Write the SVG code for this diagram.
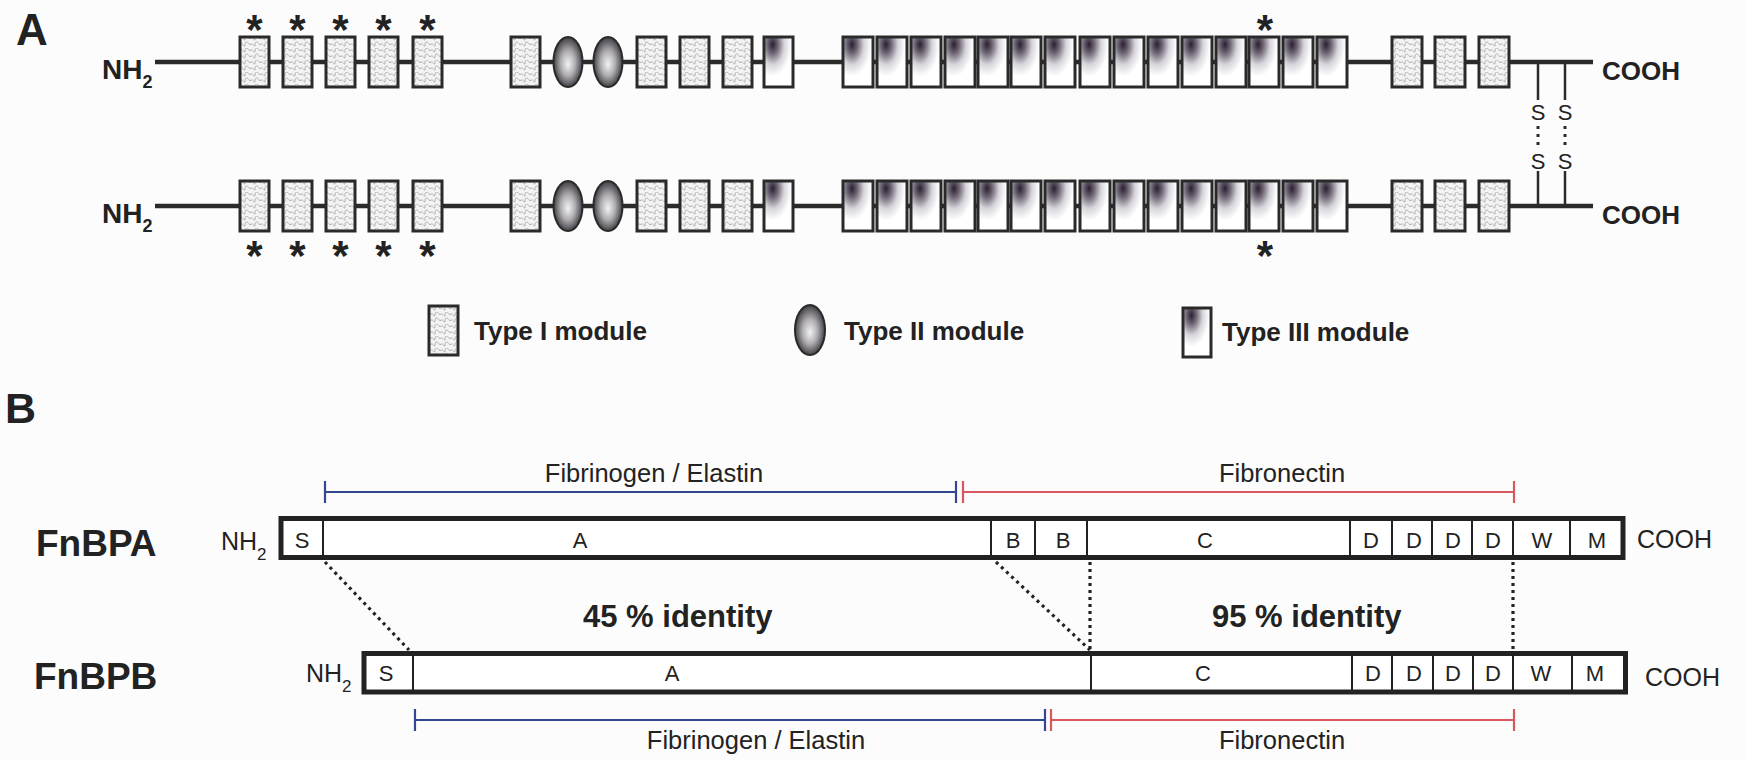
<svg xmlns="http://www.w3.org/2000/svg" width="1745" height="760" viewBox="0 0 1745 760">
<defs>
<pattern id="pI" width="10" height="12" patternUnits="userSpaceOnUse">
<rect width="10" height="12" fill="#f3f3f3"/>
<path d="M0 3 C2.5 -1 5 7 5 3 S7.5 -1 10 3 M0 9 C2.5 5 5 13 5 9 S7.5 5 10 9" fill="none" stroke="#a0a0a0" stroke-width="0.8"/>
</pattern>
<radialGradient id="gII" cx="0.5" cy="0.5" r="0.55" fx="0.5" fy="0.55">
<stop offset="0" stop-color="#f2f2f2"/>
<stop offset="0.45" stop-color="#b0aeb2"/>
<stop offset="0.85" stop-color="#504e52"/>
<stop offset="1" stop-color="#262428"/>
</radialGradient>
<radialGradient id="gIII" cx="0.3" cy="0.15" r="0.8">
<stop offset="0" stop-color="#2a2030"/>
<stop offset="0.22" stop-color="#6e6674"/>
<stop offset="0.5" stop-color="#d6d4da"/>
<stop offset="0.8" stop-color="#ffffff"/>
</radialGradient>
<style>
text{font-family:"Liberation Sans",Arial,sans-serif;fill:#222}
.b{font-weight:bold}
.m1{fill:url(#pI);stroke:#2a2a2a;stroke-width:3}
.m3{fill:url(#gIII);stroke:#2a2a2a;stroke-width:3}
.m2{fill:url(#gII);stroke:#2a2a2a;stroke-width:2}
.chain{stroke:#2a2a2a;stroke-width:4.5;fill:none}
.star{font-size:42px;font-weight:bold;text-anchor:middle}
.ss{stroke:#2a2a2a;stroke-width:2.5;fill:none}
.ssdot{stroke:#2a2a2a;stroke-width:3;stroke-dasharray:3 5;fill:none}
.bar{fill:#fff;stroke:#222;stroke-width:5}
.div{stroke:#222;stroke-width:2}
.lab{font-size:22px;text-anchor:middle}
.blue{stroke:#34468f;stroke-width:2.2;fill:none}
.red{stroke:#d8585e;stroke-width:2.2;fill:none}
.dot{stroke:#222;stroke-width:3.2;stroke-dasharray:3 4;fill:none}
.rng{font-size:25.5px;text-anchor:middle}
.ident{font-size:31px;font-weight:bold}
.leg{font-size:26px;font-weight:bold}
</style>
</defs>
<rect width="1745" height="760" fill="#fcfcfc"/>

<g id="panelA-label"><text x="16" y="45" class="b" font-size="44">A</text></g>
<g id="panelB-label"><text x="5" y="423" class="b" font-size="43">B</text></g>

<g id="connectors">
<line class="chain" x1="155" y1="62" x2="1593" y2="62"/>
<line class="chain" x1="155" y1="206" x2="1593" y2="206"/>
<line class="ss" x1="1538" y1="62" x2="1538" y2="100"/>
<line class="ss" x1="1565" y1="62" x2="1565" y2="100"/>
<line class="ssdot" x1="1538" y1="126" x2="1538" y2="146"/>
<line class="ssdot" x1="1565" y1="126" x2="1565" y2="146"/>
<line class="ss" x1="1538" y1="171" x2="1538" y2="206"/>
<line class="ss" x1="1565" y1="171" x2="1565" y2="206"/>
<path class="blue" d="M325 481V503M325 492H956M956 481V503"/>
<path class="red" d="M963 481V503M963 492H1514M1514 481V503"/>
<path class="blue" d="M415 709V731M415 720H1045M1045 709V731"/>
<path class="red" d="M1051 709V731M1051 720H1514M1514 709V731"/>
<line class="dot" x1="325" y1="562" x2="409" y2="650"/>
<line class="dot" x1="996" y1="562" x2="1090" y2="650"/>
<line class="dot" x1="1090" y1="562" x2="1090" y2="650"/>
<line class="dot" x1="1513" y1="562" x2="1513" y2="650"/>
</g>

<g id="chain-top">
<text x="102" y="79" class="b" font-size="28">NH<tspan font-size="18" dy="9">2</tspan></text>
<rect class="m1" x="240" y="37" width="29" height="50"/>
<rect class="m1" x="283" y="37" width="29" height="50"/>
<rect class="m1" x="326" y="37" width="29" height="50"/>
<rect class="m1" x="369" y="37" width="29" height="50"/>
<rect class="m1" x="413" y="37" width="29" height="50"/>
<rect class="m1" x="511" y="37" width="29" height="50"/>
<ellipse class="m2" cx="568" cy="62" rx="14.5" ry="25"/>
<ellipse class="m2" cx="608" cy="62" rx="14.5" ry="25"/>
<rect class="m1" x="637" y="37" width="29" height="50"/>
<rect class="m1" x="680" y="37" width="29" height="50"/>
<rect class="m1" x="723" y="37" width="29" height="50"/>
<rect class="m3" x="764" y="37" width="29" height="50"/>
<rect class="m3" x="843" y="37" width="30" height="50"/>
<rect class="m3" x="877" y="37" width="30" height="50"/>
<rect class="m3" x="911" y="37" width="30" height="50"/>
<rect class="m3" x="945" y="37" width="30" height="50"/>
<rect class="m3" x="978" y="37" width="30" height="50"/>
<rect class="m3" x="1011" y="37" width="30" height="50"/>
<rect class="m3" x="1045" y="37" width="30" height="50"/>
<rect class="m3" x="1080" y="37" width="30" height="50"/>
<rect class="m3" x="1114" y="37" width="30" height="50"/>
<rect class="m3" x="1148" y="37" width="30" height="50"/>
<rect class="m3" x="1182" y="37" width="30" height="50"/>
<rect class="m3" x="1216" y="37" width="30" height="50"/>
<rect class="m3" x="1249" y="37" width="30" height="50"/>
<rect class="m3" x="1283" y="37" width="30" height="50"/>
<rect class="m3" x="1317" y="37" width="30" height="50"/>
<rect class="m1" x="1392" y="37" width="30" height="50"/>
<rect class="m1" x="1435" y="37" width="30" height="50"/>
<rect class="m1" x="1479" y="37" width="30" height="50"/>
<text x="1602" y="80" class="b" font-size="26">COOH</text>
<text class="star" x="254.5" y="44">*</text>
<text class="star" x="297.5" y="44">*</text>
<text class="star" x="340.5" y="44">*</text>
<text class="star" x="383.5" y="44">*</text>
<text class="star" x="427.5" y="44">*</text>
<text class="star" x="1265" y="44">*</text>
<text x="1538" y="120" font-size="22" text-anchor="middle">S</text>
<text x="1565" y="120" font-size="22" text-anchor="middle">S</text>
</g>

<g id="chain-bottom">
<text x="102" y="223" class="b" font-size="28">NH<tspan font-size="18" dy="9">2</tspan></text>
<rect class="m1" x="240" y="181" width="29" height="50"/>
<rect class="m1" x="283" y="181" width="29" height="50"/>
<rect class="m1" x="326" y="181" width="29" height="50"/>
<rect class="m1" x="369" y="181" width="29" height="50"/>
<rect class="m1" x="413" y="181" width="29" height="50"/>
<rect class="m1" x="511" y="181" width="29" height="50"/>
<ellipse class="m2" cx="568" cy="206" rx="14.5" ry="25"/>
<ellipse class="m2" cx="608" cy="206" rx="14.5" ry="25"/>
<rect class="m1" x="637" y="181" width="29" height="50"/>
<rect class="m1" x="680" y="181" width="29" height="50"/>
<rect class="m1" x="723" y="181" width="29" height="50"/>
<rect class="m3" x="764" y="181" width="29" height="50"/>
<rect class="m3" x="843" y="181" width="30" height="50"/>
<rect class="m3" x="877" y="181" width="30" height="50"/>
<rect class="m3" x="911" y="181" width="30" height="50"/>
<rect class="m3" x="945" y="181" width="30" height="50"/>
<rect class="m3" x="978" y="181" width="30" height="50"/>
<rect class="m3" x="1011" y="181" width="30" height="50"/>
<rect class="m3" x="1045" y="181" width="30" height="50"/>
<rect class="m3" x="1080" y="181" width="30" height="50"/>
<rect class="m3" x="1114" y="181" width="30" height="50"/>
<rect class="m3" x="1148" y="181" width="30" height="50"/>
<rect class="m3" x="1182" y="181" width="30" height="50"/>
<rect class="m3" x="1216" y="181" width="30" height="50"/>
<rect class="m3" x="1249" y="181" width="30" height="50"/>
<rect class="m3" x="1283" y="181" width="30" height="50"/>
<rect class="m3" x="1317" y="181" width="30" height="50"/>
<rect class="m1" x="1392" y="181" width="30" height="50"/>
<rect class="m1" x="1435" y="181" width="30" height="50"/>
<rect class="m1" x="1479" y="181" width="30" height="50"/>
<text x="1602" y="224" class="b" font-size="26">COOH</text>
<text class="star" x="254.5" y="270">*</text>
<text class="star" x="297.5" y="270">*</text>
<text class="star" x="340.5" y="270">*</text>
<text class="star" x="383.5" y="270">*</text>
<text class="star" x="427.5" y="270">*</text>
<text class="star" x="1265" y="270">*</text>
<text x="1538" y="169" font-size="22" text-anchor="middle">S</text>
<text x="1565" y="169" font-size="22" text-anchor="middle">S</text>
</g>

<g id="legend">
<rect class="m1" x="429" y="306" width="29" height="49"/>
<text x="474" y="340" class="leg">Type I module</text>
<ellipse class="m2" cx="810" cy="330" rx="15" ry="25"/>
<text x="844" y="340" class="leg">Type II module</text>
<rect class="m3" x="1183" y="308" width="28" height="49"/>
<text x="1222" y="341" class="leg">Type III module</text>
</g>

<g id="FnBPA">
<text x="36" y="556" class="b" font-size="37">FnBPA</text>
<text x="221" y="550" font-size="25">NH<tspan font-size="17" dy="10">2</tspan></text>
<rect class="bar" x="281" y="518.5" width="1342" height="39"/>
<path class="div" d="M323 518V558M991 518V558M1035 518V558M1087 518V558M1350 518V558M1392 518V558M1432 518V558M1472 518V558M1513 518V558M1570 518V558"/>
<text class="lab" x="302" y="548">S</text>
<text class="lab" x="580" y="548">A</text>
<text class="lab" x="1013" y="548">B</text>
<text class="lab" x="1063" y="548">B</text>
<text class="lab" x="1205" y="548">C</text>
<text class="lab" x="1371" y="548">D</text>
<text class="lab" x="1414" y="548">D</text>
<text class="lab" x="1453" y="548">D</text>
<text class="lab" x="1493" y="548">D</text>
<text class="lab" x="1542" y="548">W</text>
<text class="lab" x="1597" y="548">M</text>
<text x="1637" y="548" font-size="25">COOH</text>
<text x="654" y="482" class="rng">Fibrinogen / Elastin</text>
<text x="1282" y="482" class="rng">Fibronectin</text>
</g>

<g id="FnBPB">
<text x="34" y="689" class="b" font-size="37">FnBPB</text>
<text x="306" y="682" font-size="25">NH<tspan font-size="17" dy="10">2</tspan></text>
<rect class="bar" x="364" y="653.5" width="1261.5" height="38.5"/>
<path class="div" d="M413 653V692M1091 653V692M1352 653V692M1392 653V692M1433 653V692M1473 653V692M1513 653V692M1572 653V692"/>
<text class="lab" x="386" y="681">S</text>
<text class="lab" x="672" y="681">A</text>
<text class="lab" x="1203" y="681">C</text>
<text class="lab" x="1373" y="681">D</text>
<text class="lab" x="1414" y="681">D</text>
<text class="lab" x="1453" y="681">D</text>
<text class="lab" x="1493" y="681">D</text>
<text class="lab" x="1541" y="681">W</text>
<text class="lab" x="1595" y="681">M</text>
<text x="1645" y="686" font-size="25">COOH</text>
<text x="756" y="749" class="rng">Fibrinogen / Elastin</text>
<text x="1282" y="749" class="rng">Fibronectin</text>
</g>

<g id="identity">
<text x="583" y="627" class="ident">45 % identity</text>
<text x="1212" y="627" class="ident">95 % identity</text>
</g>
</svg>
